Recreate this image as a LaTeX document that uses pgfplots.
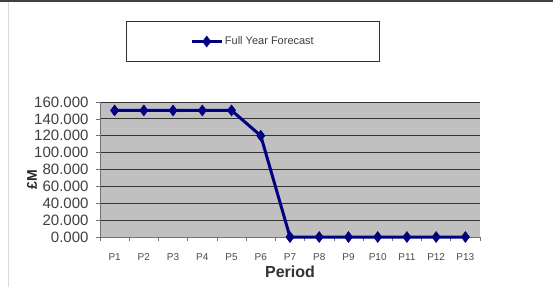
\documentclass[border=0pt]{standalone}
\usepackage{pgfplots}
\pgfplotsset{compat=1.18}
\usepackage{fontspec}
\setmainfont{Liberation Sans}
\definecolor{navy}{HTML}{000080}
\definecolor{plotgray}{HTML}{C0C0C0}
\begin{document}
\begin{tikzpicture}[x=1pt,y=1pt]
\useasboundingbox (0,0) rectangle (553,293);
\fill[white] (0,0) rectangle (553,293);
\draw[gray!30, line width=1pt] (8,6) -- (8,291);
\draw[black!75, line width=2pt] (0,292) -- (553,292);
\begin{axis}[
  at={(100pt,56pt)}, anchor=south west,
  scale only axis, width=380pt, height=135pt,
  xmin=0.5, xmax=13.5, ymin=0, ymax=160,
  axis background/.style={fill=plotgray},
  axis x line*=bottom, axis y line*=left,
  axis line style={black!55, line width=0.8pt},
  xtick={1,...,13},
  xticklabels={P1,P2,P3,P4,P5,P6,P7,P8,P9,P10,P11,P12,P13},
  major x tick style={draw=none},
  minor xtick={0.5,1.5,...,13.5},
  minor x tick style={black!55, line width=0.6pt},
  minor tick length=4pt,
  xticklabel style={font=\fontsize{10}{12}\selectfont, text=black!70, yshift=-9pt},
  ytick={0,20,...,160},
  ymajorgrids,
  major grid style={black!80, line width=0.9pt},
  tick align=outside,
  major tick length=4pt,
  ytick style={black!55, line width=0.6pt},
  yticklabel style={font=\fontsize{15}{17}\selectfont, text=black!75, xshift=-4pt},
  /pgf/number format/assume math mode=true,
  /pgf/number format/.cd, fixed, fixed zerofill, precision=3, 1000 sep={},
  /pgfplots/.cd,
  xlabel={\textbf{Period}},
  xlabel style={font=\fontsize{16}{18}\selectfont\bfseries, at={(axis description cs:0.50,0)}, anchor=north, yshift=-25pt, text=black!80},
  ylabel={\textbf{£M}},
  ylabel style={font=\fontsize{14}{16}\selectfont\bfseries, at={(axis description cs:-0.179,0.422)}, anchor=center, rotate=0, text=black!85},
  legend style={at={(axis description cs:0.403,1.448)}, anchor=center,
    draw=black!80, line width=1pt, fill=white,
    inner xsep=64pt, inner ysep=13pt,
    font=\fontsize{11}{13}\selectfont, text=black!75},
  legend image code/.code={\draw[mark repeat=2, mark phase=2, line width=2.5pt] plot coordinates {(0pt,0pt) (15pt,0pt) (30pt,0pt)};},
  clip=false,
]
\addplot[navy, line width=3pt, mark=diamond*, mark size=5.5pt, mark options={fill=navy, line width=0.5pt}]
  coordinates {(1,150) (2,150) (3,150) (4,150) (5,150) (6,120) (7,0) (8,0) (9,0) (10,0) (11,0) (12,0) (13,0)};
\addlegendentry{Full Year Forecast}
\end{axis}
\end{tikzpicture}
\end{document}
